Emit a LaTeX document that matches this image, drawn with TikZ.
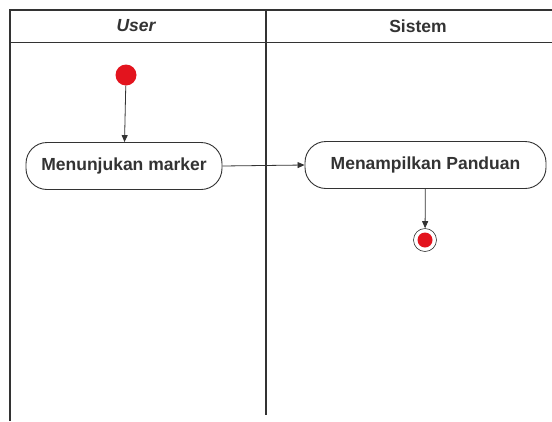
\documentclass[tikz,border=0pt]{standalone}
\usepackage{fontspec}
\setmainfont{Liberation Sans}
\usetikzlibrary{arrows.meta}
\definecolor{ln}{HTML}{333333}
\definecolor{dotred}{HTML}{E3141E}
\tikzset{
  lane/.style={draw=ln, line width=1.8pt},
  act/.style={draw=ln, line width=0.9pt, rounded corners=21pt, fill=white, minimum height=47pt,
    font=\fontsize{17.5}{20}\selectfont\bfseries, text=ln, inner sep=0pt},
  hdr/.style={font=\fontsize{17.5}{20}\selectfont\bfseries, text=ln, inner sep=0pt},
  flow/.style={draw=ln, line width=0.8pt, -{Triangle[length=7pt,width=6pt]}},
  startdot/.style={circle, fill=dotred, minimum size=21pt, inner sep=0pt},
  enddot/.style={circle, draw=ln, line width=0.6pt, fill=white, minimum size=23pt, inner sep=0pt},
}
\begin{document}
\begin{tikzpicture}[x=1pt,y=-1pt]
\useasboundingbox (0,0) rectangle (552,421);
% swimlanes
\draw[lane] (10,421) -- (10,10) -- (560,10);
\draw[lane] (10,42.5) -- (560,42.5);
\draw[lane] (266,10) -- (266,415);
\node[hdr] (hu) at (136,26) {\itshape User};
\node[hdr] (hs) at (418,26) {Sistem};
% nodes
\node[startdot] (s) at (126,75) {};
\node[act, minimum width=196pt] (a) at (124,166) {Menunjukan marker};
\node[act, minimum width=241pt] (b) at (425.5,165) {Menampilkan Panduan};
\node[enddot] (e) at (425,240) {};
\fill[dotred] (e.center) circle (7.5pt);
% flows
\draw[flow] (s) -- (a);
\draw[flow] (a.east) -- (b.west);
\draw[flow] (b) -- (e);
\end{tikzpicture}
\end{document}
